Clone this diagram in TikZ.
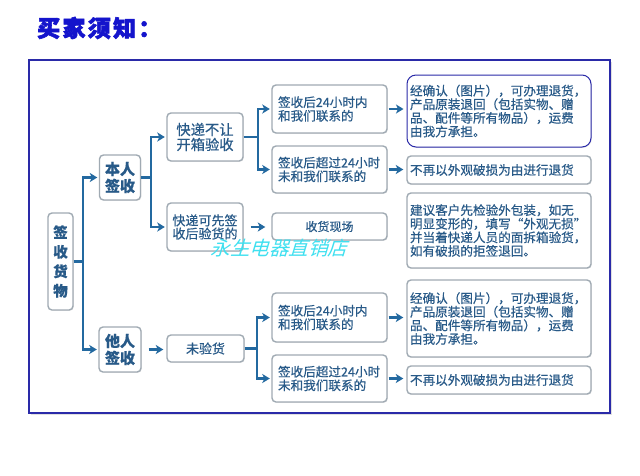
\documentclass[tikz,border=0pt]{standalone}
\usepackage{fontspec}
\setmainfont[FakeBold=0.5]{Noto Sans CJK SC}
\newfontfamily\wmfont[FakeSlant=0.3]{Noto Sans CJK SC}
\newfontfamily\titlefont[FakeBold=2.5,LetterSpace=10]{Noto Sans CJK SC}
\usetikzlibrary{arrows.meta,shadows}
\definecolor{conn}{HTML}{2369A0}
\definecolor{txt}{HTML}{285A88}
\definecolor{boxline}{HTML}{A0AAB3}
\definecolor{titleblue}{HTML}{1414CC}
\definecolor{frameblue}{HTML}{2A2AA8}
\definecolor{wm}{HTML}{3FE0F0}
\tikzset{
  box/.style={draw=boxline, line width=1.4pt, rounded corners=4pt, fill=white,
    text=txt, inner sep=0pt, align=center,
    drop shadow={shadow xshift=0.8pt, shadow yshift=-0.8pt, fill=black!20, opacity=0.5}},
  lbox/.style={box, align=left, inner xsep=6pt},
  rbox/.style={box, align=left, inner xsep=3pt},
  conline/.style={draw=conn, line width=2.3pt},
  arr/.style={conline, -{Stealth[length=7.5pt,width=9pt,inset=2pt]}},
  midf/.style={font=\fontsize{12.6}{13.6}\selectfont},
}
\begin{document}
\begin{tikzpicture}[x=1pt,y=-1pt]
\useasboundingbox[fill=white] (0,0) rectangle (640,475);
% title
\node[anchor=west, text=titleblue, font=\titlefont\bfseries\fontsize{23}{23}\selectfont, inner sep=0pt] (title) at (37,28) {买家须知：};
% outer frame
\fill[black!12] (31,62) rectangle (612,415);
\draw[draw=frameblue, line width=1.2pt, fill=white] (29,60) rectangle (610,413);
% column 1
\node[box, minimum width=25pt, minimum height=97pt, font=\bfseries\fontsize{14.5}{19.5}\selectfont] (root) at (60.5,261.5) {签\\收\\货\\物};
% column 2
\node[box, minimum width=41pt, minimum height=45pt, font=\bfseries\fontsize{15}{17}\selectfont] (benren) at (120,177.5) {本人\\签收};
\node[box, minimum width=42pt, minimum height=45pt, font=\bfseries\fontsize{15}{17}\selectfont] (taren) at (120,349.5) {他人\\签收};
% column 3
\node[box, minimum width=76pt, minimum height=48pt, font=\fontsize{14.3}{15}\selectfont] (k1) at (205,137) {快递不让\\开箱验收};
\node[box, minimum width=76pt, minimum height=48pt, font=\fontsize{13}{13.2}\selectfont] (k2) at (205,227) {快递可先签\\收后验货的};
\node[box, minimum width=77pt, minimum height=27pt, font=\fontsize{13}{14}\selectfont] (wei) at (205.5,348.5) {未验货};
% column 4
\node[lbox, text width=103pt, minimum height=48pt, midf] (a1) at (329.5,109) {签收后24小时内\\和我们联系的};
\node[lbox, text width=103pt, minimum height=47pt, midf] (a2) at (329.5,169.5) {签收后超过24小时\\未和我们联系的};
\node[box, minimum width=115pt, minimum height=27pt, font=\fontsize{12}{13}\selectfont] (a3) at (329.5,226.5) {收货现场};
\node[lbox, text width=103pt, minimum height=49pt, midf] (a4) at (329.5,317.5) {签收后24小时内\\和我们联系的};
\node[lbox, text width=103pt, minimum height=47pt, midf] (a5) at (329.5,378.5) {签收后超过24小时\\未和我们联系的};
% column 5
\node[rbox, draw=frameblue, line width=1pt, rounded corners=9pt, text width=178pt, minimum height=72pt, midf] (r1) at (499,111) {经确认（图片），可办理退货，\\产品原装退回（包括实物、赠\\品、配件等所有物品），运费\\由我方承担。};
\node[rbox, text width=178pt, minimum height=28pt, midf] (r2) at (499,170) {不再以外观破损为由进行退货};
\node[rbox, text width=178pt, minimum height=75pt, midf] (r3) at (499,230.5) {建议客户先检验外包装，如无\\明显变形的，填写“外观无损”\\并当着快递人员的面拆箱验货，\\如有破损的拒签退回。};
\node[rbox, text width=178pt, minimum height=77pt, midf] (r4) at (499,318.5) {经确认（图片），可办理退货，\\产品原装退回（包括实物、赠\\品、配件等所有物品），运费\\由我方承担。};
\node[rbox, text width=178pt, minimum height=28pt, midf] (r5) at (499,380) {不再以外观破损为由进行退货};
% forks
\coordinate (f1) at ([xshift=9pt]root.east);
\draw[conline] (root.east) -- (f1);
\draw[arr, shorten >=1.5pt] (f1) |- (benren.west);
\draw[arr, shorten >=1.5pt] (f1) |- (taren.west);
\coordinate (f2) at ([xshift=9.5pt]benren.east);
\draw[conline] (benren.east) -- (f2);
\draw[arr, shorten >=1.5pt] (f2) |- (k1.west);
\draw[arr, shorten >=1.5pt] (f2) |- (k2.west);
\coordinate (f3) at ([xshift=14pt]k1.east);
\draw[conline] (k1.east) -- (f3);
\draw[arr, shorten >=1.5pt] (f3) |- (a1.west);
\draw[arr, shorten >=1.5pt] (f3) |- (a2.west);
\coordinate (f4) at ([xshift=12.5pt]wei.east);
\draw[conline] (wei.east) -- (f4);
\draw[arr, shorten >=1.5pt] (f4) |- (a4.west);
\draw[arr, shorten >=1.5pt] (f4) |- (a5.west);
% straight arrows
\draw[arr, shorten <=7pt, shorten >=3pt] (taren.east) -- (taren.east -| wei.west);
\draw[arr, shorten <=7pt, shorten >=6pt] (k2.east) -- (k2.east -| a3.west);
\draw[arr, shorten <=1pt, shorten >=3pt] (a1.east) -- (a1.east -| r1.west);
\draw[arr, shorten <=1pt, shorten >=3pt] (a2.east) -- (a2.east -| r2.west);
\draw[arr, shorten <=1pt, shorten >=3pt] (a4.east) -- (a4.east -| r4.west);
\draw[arr, shorten <=1pt, shorten >=3pt] (a5.east) -- (a5.east -| r5.west);
% watermark
\node[text=wm, font=\wmfont\fontsize{19.5}{19.5}\selectfont, inner sep=0pt] (wmark) at (279,248) {永生电器直销店};
\end{tikzpicture}
\end{document}
